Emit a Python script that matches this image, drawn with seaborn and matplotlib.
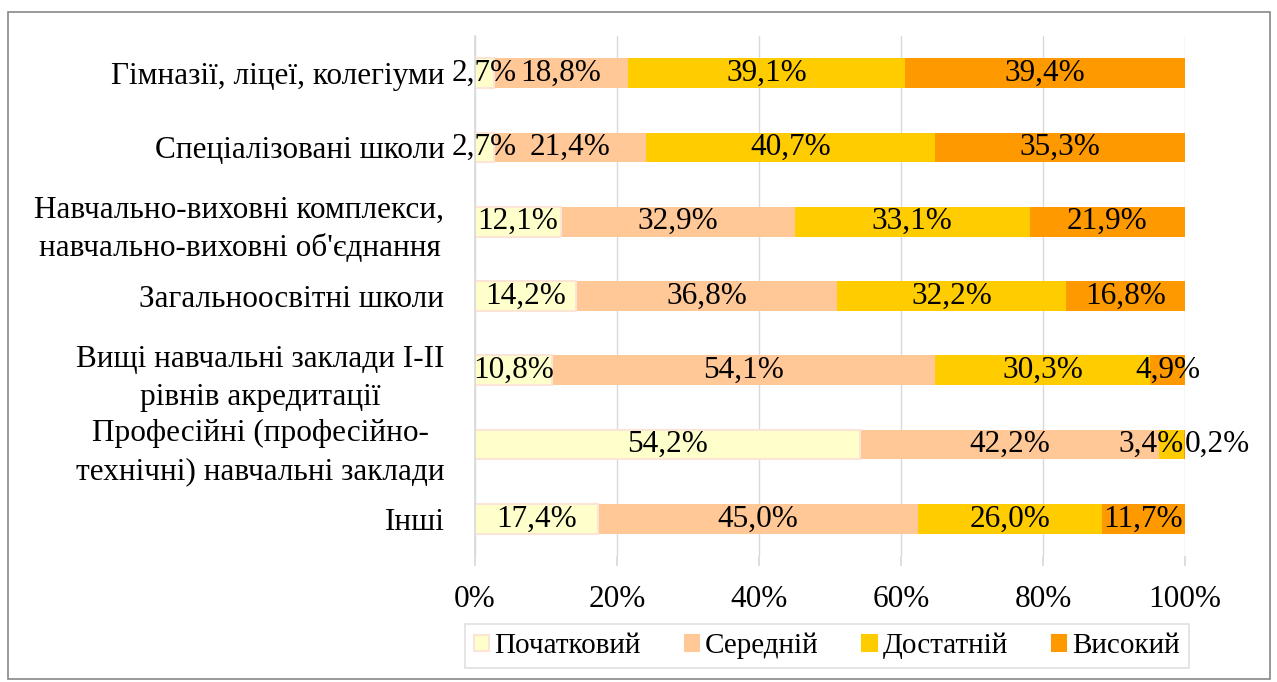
import matplotlib
matplotlib.use("Agg")
import matplotlib.pyplot as plt
import matplotlib.patches as mpatches
from matplotlib.ticker import FuncFormatter
import seaborn as sns
import pandas as pd
import numpy as np

categories = [
    "Гімназії, ліцеї, колегіуми",
    "Спеціалізовані школи",
    "Навчально-виховні комплекси,\nнавчально-виховні об'єднання",
    "Загальноосвітні школи",
    "Вищі навчальні заклади I-II\nрівнів акредитації",
    "Професійні (професійно-\nтехнічні) навчальні заклади",
    "Інші",
]
series_names = ["Початковий", "Середній", "Достатній", "Високий"]
pochatkovyi = [2.7, 2.7, 12.1, 14.2, 10.8, 54.2, 17.4]
serednii = [18.8, 21.4, 32.9, 36.8, 54.1, 42.2, 45.0]
dostatnii = [39.1, 40.7, 33.1, 32.2, 30.3, 3.4, 26.0]
vysokyi = [39.4, 35.3, 21.9, 16.8, 4.9, 0.2, 11.7]
xtick_values = [0, 20, 40, 60, 80, 100]

colors = ["#FFFFCC", "#FFC896", "#FFCC00", "#FF9900"]
edgecolors = ["#FCE4D6", "none", "none", "none"]

sns.set_theme(style="white")
plt.rcParams["font.family"] = ["Liberation Serif", "DejaVu Serif"]
plt.rcParams["text.color"] = "black"
plt.rcParams["xtick.labelcolor"] = "black"
plt.rcParams["ytick.labelcolor"] = "black"
FS = 22.5

vals = np.array([pochatkovyi, serednii, dostatnii, vysokyi])
totals = vals.sum(axis=0)
norm = vals / totals * 100.0
cum = np.cumsum(norm, axis=0)

fig = plt.figure(figsize=(12.77, 6.82), dpi=100)
ax = fig.add_axes([475 / 1277, 1 - 556 / 682, 710 / 1277, 520 / 682])

# overlay cumulative bars, widest first
for i in range(3, -1, -1):
    df = pd.DataFrame({"cat": categories, "val": cum[i]})
    sns.barplot(data=df, x="val", y="cat", orient="h", color=colors[i],
                width=0.4, ax=ax, edgecolor=edgecolors[i],
                linewidth=1.5 if edgecolors[i] != "none" else 0,
                saturation=1, zorder=2)

# data labels
for i in range(4):
    for j in range(len(categories)):
        start = cum[i][j] - norm[i][j]
        label = f"{vals[i][j]:.1f}%".replace(".", ",")
        if norm[i][j] < 1.0:
            ax.text(cum[i][j], j, label, ha="left", va="center", fontsize=FS,
                    color="black", zorder=5)
        elif i < 3 and norm[i + 1][j] < 1.0:
            ax.text(cum[i][j], j, label, ha="right", va="center", fontsize=FS,
                    color="black", zorder=5)
        else:
            ax.text(start + norm[i][j] / 2, j, label, ha="center", va="center",
                    fontsize=FS, color="black", zorder=5)

ax.set_xlim(0, 100)
ax.set_ylim(6.5, -0.5)
ax.set_xticks(xtick_values)
ax.xaxis.set_major_formatter(FuncFormatter(lambda v, p: f"{int(v)}%"))
ax.set_xlabel("")
ax.set_ylabel("")
ax.grid(axis="x", color="#D9D9D9", linewidth=1, zorder=0)
ax.set_axisbelow(True)
for s in ["top", "right", "bottom"]:
    ax.spines[s].set_visible(False)
ax.spines["left"].set_color("#D9D9D9")
ax.spines["left"].set_linewidth(1.2)
ax.tick_params(axis="x", length=7, color="#D9D9D9", labelsize=FS, pad=14,
               bottom=True, labelcolor="black")
ax.tick_params(axis="y", length=0, labelsize=FS, pad=22, labelcolor="black")
for t in ax.get_yticklabels():
    t.set_multialignment("center")
    t.set_linespacing(1.4)

handles = [mpatches.Patch(facecolor=colors[i],
                          edgecolor=edgecolors[i] if edgecolors[i] != "none" else colors[i],
                          linewidth=1.5, label=series_names[i]) for i in range(4)]
leg = fig.legend(handles=handles, loc="center", ncol=4,
                 bbox_to_anchor=(827 / 1277, 1 - 646 / 682), fontsize=FS - 1.5,
                 frameon=True, fancybox=False, handlelength=0.5, handleheight=0.5,
                 handletextpad=0.2, columnspacing=1.5, borderpad=0.3)
leg.get_frame().set_edgecolor("#D9D9D9")
leg.get_frame().set_linewidth(1.2)

border = mpatches.Rectangle((8 / 1277, 1 - 679 / 682), 1262 / 1277, 667 / 682,
                            transform=fig.transFigure, fill=False,
                            edgecolor="#888888", linewidth=1.2)
fig.patches.append(border)

fig.savefig("out.png", dpi=100)
